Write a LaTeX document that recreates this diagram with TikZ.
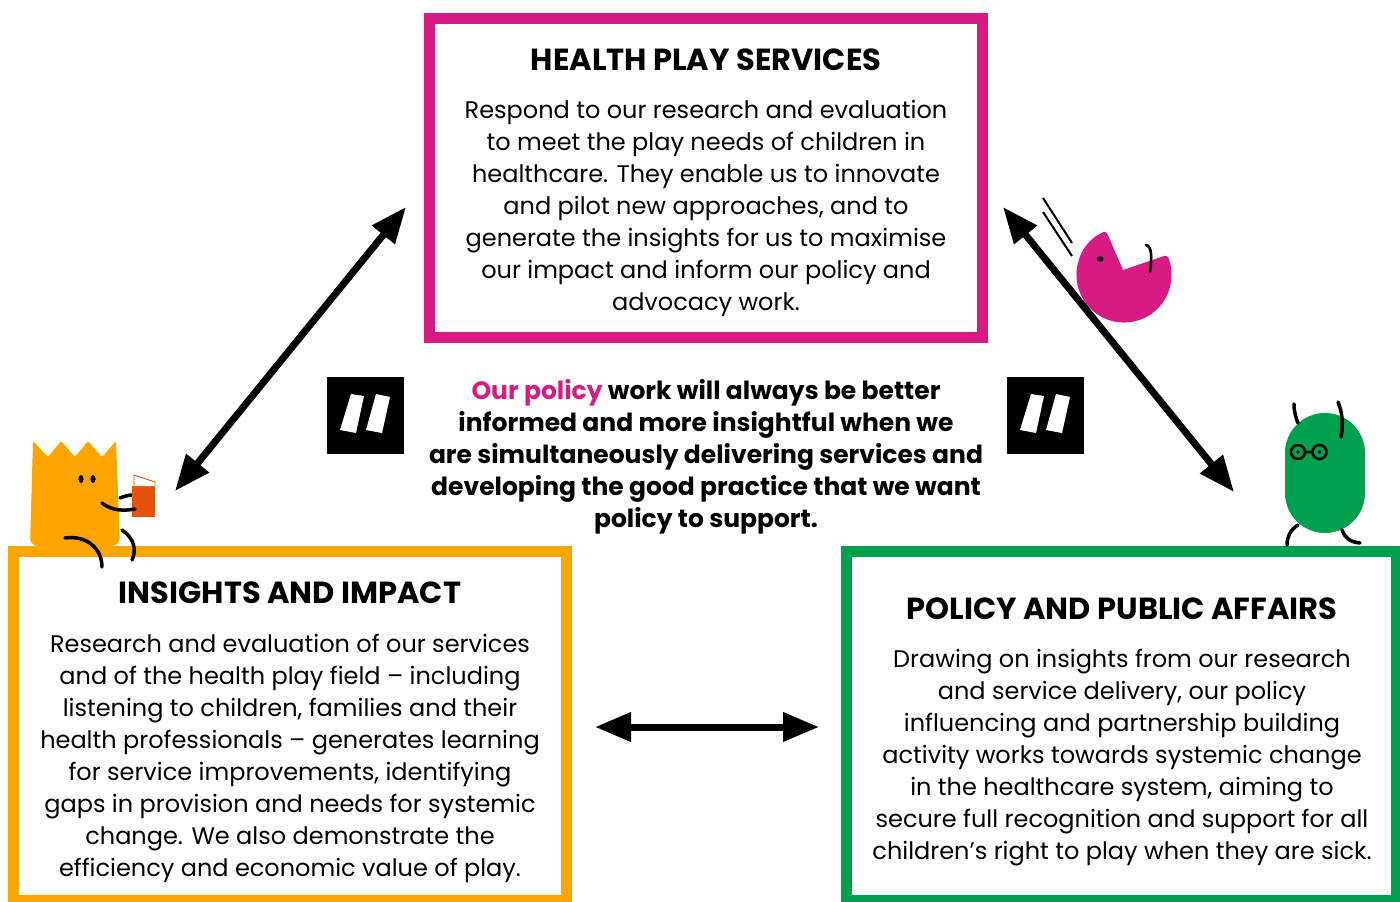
\documentclass[tikz,border=0pt]{standalone}
\usepackage{fontspec}
\setmainfont{Poppins}
\usetikzlibrary{arrows.meta}
\definecolor{hpspink}{HTML}{D81B84}
\definecolor{iiorange}{HTML}{FFA500}
\definecolor{ppgreen}{HTML}{00A04E}
\definecolor{bookred}{HTML}{E5520E}
\tikzset{
  frame/.style={draw=#1, line width=11pt, inner sep=0pt, fill=white},
  title/.style={font=\bfseries\fontsize{30.5}{34}\selectfont, inner sep=0pt, anchor=center},
  body/.style={font=\fontsize{24}{32}\selectfont, align=center, inner sep=0pt, anchor=north},
  lead/.style={font=\bfseries\fontsize{25}{32}\selectfont, align=center, inner sep=0pt, anchor=north},
  twoway/.style={line width=7pt, {Triangle[length=36pt,width=28pt]}-{Triangle[length=36pt,width=28pt]}},
  limb/.style={line width=3.5pt, line cap=round},
  quotebox/.style={fill=black, minimum size=77pt, inner sep=0pt, anchor=north west}
}
\begin{document}
\begin{tikzpicture}[x=1pt,y=-1pt]
\useasboundingbox (0,0) rectangle (1400,902);
\clip (0,0) rectangle (1400,902);

% --- the three boxes
\node[frame=hpspink, minimum width=553pt, minimum height=319pt] (hps) at (706,178) {};
\node[frame=iiorange, minimum width=553pt, minimum height=349pt] (ii) at (290,726) {};
\node[frame=ppgreen, minimum width=550pt, minimum height=349pt] (ppa) at (1121.5,726) {};

% --- titles
\node[title] (hpsT) at (706,60) {HEALTH PLAY SERVICES};
\node[title] (iiT) at (290,593) {INSIGHTS AND IMPACT};
\node[title] (ppaT) at (1122,609) {POLICY AND PUBLIC AFFAIRS};

% --- box texts
\node[body] (hpsB) at (706,100) {Respond to our research and evaluation\\
to meet the play needs of children in\\
healthcare. They enable us to innovate\\
and pilot new approaches, and to\\
generate the insights for us to maximise\\
our impact and inform our policy and\\
advocacy work.};

\node[body] (iiB) at (290,634) {Research and evaluation of our services\\
and of the health play field -- including\\
listening to children, families and their\\
health professionals -- generates learning\\
for service improvements, identifying\\
gaps in provision and needs for systemic\\
change. We also demonstrate the\\
efficiency and economic value of play.};

\node[body] (ppaB) at (1122,649) {Drawing on insights from our research\\
and service delivery, our policy\\
influencing and partnership building\\
activity works towards systemic change\\
in the healthcare system, aiming to\\
secure full recognition and support for all\\
children’s right to play when they are sick.};

% --- central statement
\node[lead] (quote) at (706,379) {{\color{hpspink}Our policy} work will always be better\\
informed and more insightful when we\\
are simultaneously delivering services and\\
developing the good practice that we want\\
policy to support.};

% --- quotation marks
\node[quotebox] (qL) at (327,377) {};
\node[quotebox] (qR) at (1007,377) {};
\foreach \q in {qL,qR}{
  \begin{scope}[shift={(\q.north west)}]
    \fill[white] (24,17) -- (37,19) -- (29,56) -- (13,53) -- cycle;
    \fill[white] (49,17) -- (63,20) -- (55,56) -- (39,53) -- cycle;
  \end{scope}
}

% --- orange character (reader)
\fill[iiorange, rounded corners=2pt] (33,441) -- (48,457) -- (61,441) -- (75,457) -- (88,441) -- (102,457) -- (116,441)
  [rounded corners=8pt] -- (120,546) -- (30,546) [rounded corners=2pt] -- cycle;
\fill (81,479) ellipse [x radius=2.6pt, y radius=4pt];
\fill (93,479) ellipse [x radius=2.6pt, y radius=4pt];
\draw[limb] (120,498) .. controls (125,496) and (129,495) .. (133,495);
\fill[bookred] (132,486) rectangle (155,517);
\draw[bookred, line width=0.9pt, fill=white] (134,486) -- (134,475) -- (155,482) -- (155,486);
\draw[limb] (102,503) .. controls (112,511) and (124,511) .. (135,509);
\draw[limb] (65,538) .. controls (86,535) and (102,548) .. (102,567);
\draw[limb] (122,530) .. controls (134,538) and (137,550) .. (132,560);

% --- pink character (pac)
\draw[line width=2pt] (1043,198) -- (1072,243);
\draw[line width=2pt] (1043,212) -- (1072,256);
\fill[hpspink] (1123,270) [rounded corners=3pt] -- (1106.2,231) arc[start angle=-112, end angle=-385, radius=47.5] [sharp corners] -- cycle;
\fill (1100,259) ellipse [x radius=3.5pt, y radius=2.5pt];
\draw[line width=2.6pt, line cap=round] (1146,245) .. controls (1152,246) and (1152,258) .. (1150,272);

% --- green character (with glasses)
\fill[ppgreen, rounded corners=40pt] (1285,413) rectangle (1365,533);
\draw[line width=2.5pt] (1298,452) circle[radius=7pt] (1319.5,452) circle[radius=7pt] (1305,452) -- (1312.5,452);
\fill (1298,452) circle[radius=1.8pt] (1319.5,452) circle[radius=1.8pt];
\draw[limb] (1294,404) .. controls (1294,412) and (1296,418) .. (1298,423);
\draw[limb] (1338,402) .. controls (1343,414) and (1343,426) .. (1341,437);
\draw[limb] (1298,525) .. controls (1290,530) and (1287,537) .. (1287,545);
\draw[limb] (1342,530) .. controls (1345,538) and (1350,542) .. (1360,543);

% --- arrows between the areas
\coordinate (a1) at (175,491);
\coordinate (a2) at (406,207);
\coordinate (b1) at (1003,207);
\coordinate (b2) at (1234,492);
\coordinate (c1) at (595,727);
\coordinate (c2) at (819,727);
\draw[twoway] (a1) -- (a2);
\draw[twoway] (b1) -- (b2);
\draw[twoway] (c1) -- (c2);
\end{tikzpicture}
\end{document}
